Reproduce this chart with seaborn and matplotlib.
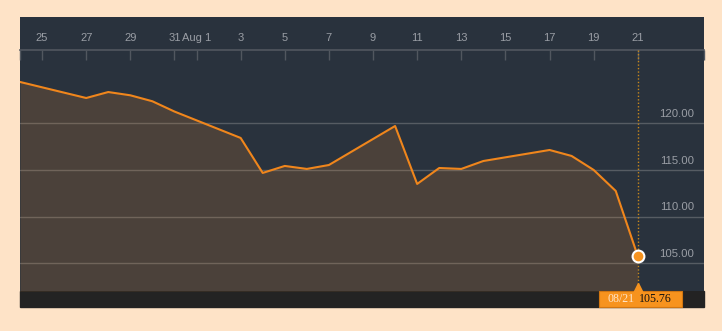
import matplotlib
matplotlib.use("Agg")
import matplotlib.pyplot as plt
import matplotlib.dates as mdates
from matplotlib.patches import Rectangle
from matplotlib.transforms import ScaledTranslation, offset_copy
import pandas as pd
import seaborn as sns

# price series
dates = ["2015-07-24", "2015-07-27", "2015-07-28", "2015-07-29", "2015-07-30",
         "2015-07-31", "2015-08-03", "2015-08-04", "2015-08-05", "2015-08-06",
         "2015-08-07", "2015-08-10", "2015-08-11", "2015-08-12", "2015-08-13",
         "2015-08-14", "2015-08-17", "2015-08-18", "2015-08-19", "2015-08-20",
         "2015-08-21"]
prices = [124.43, 122.71, 123.35, 123.00, 122.36,
          121.26, 118.43, 114.68, 115.43, 115.11,
          115.53, 119.71, 113.50, 115.21, 115.11,
          115.96, 117.14, 116.50, 115.00, 112.75,
          105.76]

tick_dates = ["2015-07-25", "2015-07-27", "2015-07-29", "2015-07-31", "2015-08-01",
              "2015-08-03", "2015-08-05", "2015-08-07", "2015-08-09", "2015-08-11",
              "2015-08-13", "2015-08-15", "2015-08-17", "2015-08-19", "2015-08-21"]
tick_labels = ["25", "27", "29", "31", "Aug 1", "3", "5", "7", "9", "11",
               "13", "15", "17", "19", "21"]
y_levels = [105, 110, 115, 120]

df = pd.DataFrame({"date": pd.to_datetime(dates), "price": prices})

sns.set_style("dark")
plt.rcParams["font.family"] = ["Liberation Sans", "DejaVu Sans"]

ORANGE = "#F7931E"
LINE = "#F0861C"
PANEL = "#29323D"
TEXT = "#9A9EA5"

fig = plt.figure(figsize=(7.22, 3.31), dpi=100)
fig.patch.set_facecolor("#FEE3C7")
W, H = 722, 331

# dark strip under the plot (kept behind the axes so the label box shows)
fig.patches.append(Rectangle((20 / W, (H - 307) / H), 684 / W, 16 / H,
                             transform=fig.transFigure, color="#232323", zorder=-1))

ax = fig.add_axes([20 / W, (H - 291) / H, 684 / W, 274 / H])
ax.set_facecolor(PANEL)

ymin, ymax = 102.03, 131.39
xmin, xmax = pd.Timestamp("2015-07-24"), pd.Timestamp("2015-08-24")

sns.lineplot(data=df, x="date", y="price", ax=ax, color=LINE, lw=1.5, zorder=4)
ax.fill_between(df["date"], df["price"], ymin, color="#F39030", alpha=0.17,
                lw=0, zorder=3)

ax.set_xlim(xmin, xmax)
ax.set_ylim(ymin, ymax)
ax.set_xlabel("")
ax.set_ylabel("")

# horizontal grid
ax.set_yticks(y_levels)
ax.tick_params(axis="y", length=0, labelleft=False, labelright=False)
ax.grid(False)
for v in y_levels:
    ax.axhline(v, color="#565C63", lw=1, zorder=2)
    ax.annotate(f"{v:.2f}", xy=(1, v), xycoords=("axes fraction", "data"),
                xytext=(-7.2, 4.6), textcoords="offset points",
                ha="right", va="baseline", fontsize=8.2, color=TEXT)

# date axis drawn as a line inside the panel
spine_frac = (291 - 50) / 274
for s in ["left", "right", "bottom"]:
    ax.spines[s].set_visible(False)
ax.spines["top"].set_position(("axes", spine_frac))
ax.spines["top"].set_color("#51575F")
ax.spines["top"].set_linewidth(1.2)
ax.xaxis.tick_top()
ax.set_xticks(pd.to_datetime(tick_dates), labels=tick_labels)
ax.set_xticks([xmin, xmax], minor=True)
ax.tick_params(axis="x", which="both", direction="in", length=7.2, width=1,
               color="#51575F", pad=5, labelsize=8, labelcolor=TEXT)
ax.tick_params(axis="x", which="minor", labeltop=False)

# current value marker and crosshair
last_x = df["date"].iloc[-1]
last_y = df["price"].iloc[-1]
ax.axvline(last_x, ymin=0, ymax=spine_frac, color="#C8881C", lw=1,
           ls=(0, (1, 1.5)), zorder=5)
ax.plot([last_x], [last_y], "o", ms=8.5, mfc=ORANGE, mec="white", mew=1.5,
        zorder=6)

# label box under the axes
xnum = mdates.date2num(last_x)
anchor = fig.dpi_scale_trans + ScaledTranslation(xnum, 0, ax.get_xaxis_transform())
box = Rectangle((-0.39, -0.16), 0.83, 0.16, transform=anchor, fc=ORANGE,
                ec="#D27610", lw=0.8, clip_on=False, zorder=7)
ax.add_patch(box)
ax.plot([last_x], [0], marker="^", ms=7, color=ORANGE, clip_on=False, zorder=7,
        transform=offset_copy(ax.get_xaxis_transform(), fig=fig, x=0, y=3,
                              units="dots"))
date_label = last_x.strftime("%m/%d")
ax.annotate(date_label, xy=(last_x, 0), xycoords=("data", "axes fraction"),
            xytext=(-21.8, -8.2), textcoords="offset points", ha="left",
            va="baseline", fontsize=8.6, family="Liberation Serif",
            color="#FFE4C8", annotation_clip=False, zorder=8)
ax.annotate(f"{last_y:.2f}", xy=(last_x, 0), xycoords=("data", "axes fraction"),
            xytext=(24.5, -8.2), textcoords="offset points", ha="right",
            va="baseline", fontsize=8.6, family="Liberation Serif",
            color="#111111", annotation_clip=False, zorder=8)

fig.savefig("out.png", dpi=100, facecolor=fig.get_facecolor())
